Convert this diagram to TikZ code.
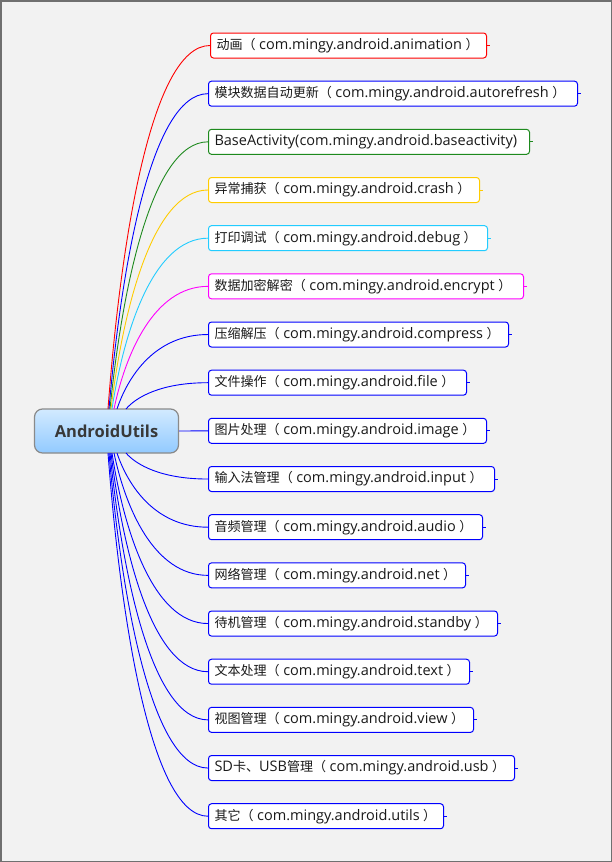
\documentclass[tikz,border=0pt]{standalone}
\usepackage{fontspec}
\setmainfont{Open Sans}
\newfontfamily\cjk{Noto Sans CJK SC}[Scale=0.9]
\usetikzlibrary{calc}
\definecolor{bg}{HTML}{F2F2F2}
\definecolor{framegray}{HTML}{707070}
\definecolor{txt}{HTML}{1A1A1A}
\definecolor{ctxt}{HTML}{383838}
\definecolor{cgray}{HTML}{8A8A8A}
\definecolor{ctop}{HTML}{D2EAFF}
\definecolor{cbot}{HTML}{92CAFF}
\definecolor{lred}{HTML}{FF0000}
\definecolor{lblue}{HTML}{0000FF}
\definecolor{lgreen}{HTML}{1E8A1E}
\definecolor{lyellow}{HTML}{FFCC00}
\definecolor{lcyan}{HTML}{22CCFF}
\definecolor{lmag}{HTML}{FF00FF}
\newcommand\lbx[2]{\makebox[#1pt][l]{#2}}
\newcommand\lpar{{\cjk （}\kern3.5pt}
\newcommand\rpar{\kern3.5pt{\cjk ）}}
\tikzset{
  leaf/.style={draw=#1, fill=white, rounded corners=3pt, line width=1pt, anchor=west,
    minimum height=25pt, inner xsep=6pt, inner ysep=0pt, text=txt,
    font=\fontsize{14.5}{16}\selectfont},
  conn/.style={draw=#1, line width=0.9pt},
  hub/.style={draw=cgray, line width=1.2pt, rounded corners=8pt, top color=ctop, bottom color=cbot,
    minimum width=144pt, minimum height=44pt, text=ctxt, font=\bfseries\fontsize{16.5}{18}\selectfont},
}
\begin{document}
\begin{tikzpicture}[x=1pt,y=-1pt]
\useasboundingbox (0,0) rectangle (612,862);
\fill[bg] (0,0) rectangle (612,862);
\draw[framegray, line width=1.5pt] (0.75,0.75) rectangle (611.25,861.25);

\node[hub] (c) at (106.5,431) {AndroidUtils};

\node[leaf=lred]    (n1)  at (210,45.5)   {\lbx{264}{{\cjk 动画}\lpar com.mingy.android.animation\rpar}};
\node[leaf=lblue]   (n2)  at (208,93.67)  {\lbx{357}{{\cjk 模块数据自动更新}\lpar com.mingy.android.autorefresh\rpar}};
\node[leaf=lgreen]  (n3)  at (208,141.84) {\lbx{309}{BaseActivity(com.mingy.android.baseactivity)}};
\node[leaf=lyellow] (n4)  at (208,190.01) {\lbx{259}{{\cjk 异常捕获}\lpar com.mingy.android.crash\rpar}};
\node[leaf=lcyan]   (n5)  at (208,238.18) {\lbx{267}{{\cjk 打印调试}\lpar com.mingy.android.debug\rpar}};
\node[leaf=lmag]    (n6)  at (208,286.35) {\lbx{303}{{\cjk 数据加密解密}\lpar com.mingy.android.encrypt\rpar}};
\node[leaf=lblue]   (n7)  at (208,334.52) {\lbx{288}{{\cjk 压缩解压}\lpar com.mingy.android.compress\rpar}};
\node[leaf=lblue]   (n8)  at (208,382.69) {\lbx{246}{{\cjk 文件操作}\lpar com.mingy.android.file\rpar}};
\node[leaf=lblue]   (n9)  at (208,430.86) {\lbx{266}{{\cjk 图片处理}\lpar com.mingy.android.image\rpar}};
\node[leaf=lblue]   (n10) at (208,479.03) {\lbx{274}{{\cjk 输入法管理}\lpar com.mingy.android.input\rpar}};
\node[leaf=lblue]   (n11) at (208,527.2)  {\lbx{262}{{\cjk 音频管理}\lpar com.mingy.android.audio\rpar}};
\node[leaf=lblue]   (n12) at (208,575.37) {\lbx{245}{{\cjk 网络管理}\lpar com.mingy.android.net\rpar}};
\node[leaf=lblue]   (n13) at (208,623.54) {\lbx{277}{{\cjk 待机管理}\lpar com.mingy.android.standby\rpar}};
\node[leaf=lblue]   (n14) at (208,671.71) {\lbx{249}{{\cjk 文本处理}\lpar com.mingy.android.text\rpar}};
\node[leaf=lblue]   (n15) at (208,719.88) {\lbx{253}{{\cjk 视图管理}\lpar com.mingy.android.view\rpar}};
\node[leaf=lblue]   (n16) at (208,768.05) {\lbx{294}{SD{\cjk 卡、}USB{\cjk 管理}\lpar com.mingy.android.usb\rpar}};
\node[leaf=lblue]   (n17) at (208,816.22) {\lbx{223}{{\cjk 其它}\lpar com.mingy.android.utils\rpar}};

\foreach \i/\xs/\c in {1/108/lred,2/109/lblue,3/110/lgreen,4/111/lyellow,5/112/lcyan,6/114/lmag,
  7/117/lblue,8/126/lblue,10/126/lblue,11/117/lblue,12/114/lblue,13/112/lblue,14/111/lblue,
  15/110/lblue,16/109/lblue,17/108/lblue}{
  \pgfmathsetmacro\yc{45.5+48.17*(\i-1)}
  \pgfmathsetmacro\ys{\i<9 ? 409 : 453}
  \pgfmathsetmacro\ax{\xs+0.12*(208-\xs)}
  \pgfmathsetmacro\ay{\ys+0.44*(\yc-\ys)}
  \pgfmathsetmacro\bx{\xs+0.42*(208-\xs)}
  \coordinate (s\i) at (\xs,\ys);
  \draw[conn=\c] (s\i) .. controls (\ax,\ay) and (\bx,\yc) .. (n\i.west);
  \draw[conn=\c] (n\i.east) -- ++(3,0);
}
\draw[conn=lblue] (c.east) -- (n9.west);
\draw[conn=lblue] (n9.east) -- ++(3,0);
\end{tikzpicture}
\end{document}
